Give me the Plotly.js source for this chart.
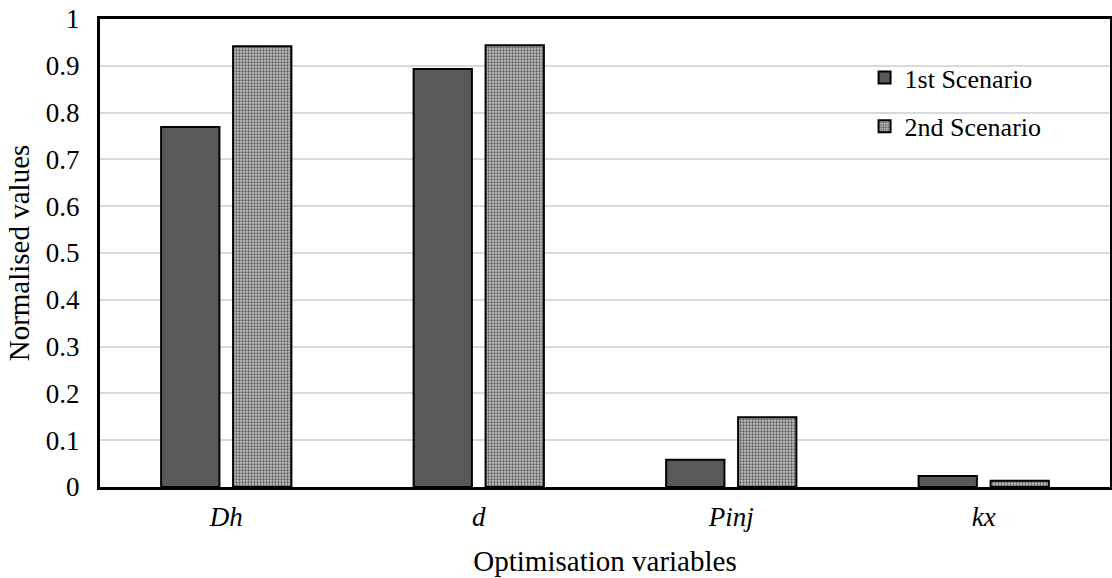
<!DOCTYPE html>
<html><head><meta charset="utf-8">
<script src="https://cdn.plot.ly/plotly-3.0.1.min.js"></script>
<style>html,body{margin:0;padding:0;background:#fff}</style>
</head><body>
<div id="chart" style="width:1112px;height:578px"></div>
<script>
const categories = ["Dh", "d", "Pinj", "kx"];
const tickLabels = ["<i>Dh</i>", "<i>d</i>", "<i>Pinj</i>", "<i>kx</i>"];
const scenario1 = [0.769, 0.893, 0.058, 0.0235];
const scenario2 = [0.942, 0.944, 0.149, 0.0135];
const seriesNames = ["1st Scenario", "2nd Scenario"];

const font = "Liberation Serif, Times New Roman, serif";
const traces = [
  {type:"bar", name:seriesNames[0], x:categories, y:scenario1, legendgroup:"a",
   marker:{color:"#595959", line:{color:"#000", width:2}}},
  {type:"bar", name:seriesNames[1], x:categories, y:scenario2, legendgroup:"b",
   marker:{color:"#a6a6a6", line:{color:"#000", width:2},
     pattern:{shape:".", fgcolor:"#5a5a5a", bgcolor:"#c4c4c4", size:3, solidity:0.45}}}
];
const layout = {
  width:1112, height:578,
  margin:{l:100, r:2, t:19, b:91},
  paper_bgcolor:"#fff", plot_bgcolor:"#fff",
  font:{family:font, size:26, color:"#000"},
  barmode:"group", bargap:0.43, bargroupgap:0.19,
  showlegend:true,
  legend:{x:0.757, y:0.925, xanchor:"left", yanchor:"top", font:{size:26, family:font},
          tracegroupgap:12, traceorder:"grouped", bgcolor:"rgba(0,0,0,0)", itemwidth:30},
  xaxis:{type:"category", tickvals:categories, ticktext:tickLabels, showline:true, linecolor:"#000", linewidth:3,
         mirror:true, ticks:"", ticklabelstandoff:4, tickfont:{size:27, family:font},
         title:{text:"Optimisation variables", font:{size:29, family:font}, standoff:20}},
  yaxis:{range:[0,1], dtick:0.1, showline:true, linecolor:"#000", linewidth:3, mirror:true,
         gridcolor:"#d9d9d9", gridwidth:2, ticks:"", ticklabelstandoff:12, tickfont:{size:27, family:font}, zeroline:false,
         title:{text:"Normalised values", font:{size:29, family:font}, standoff:8}}
};
Plotly.newPlot("chart", traces, layout, {displayModeBar:false, staticPlot:true});
</script>
</body></html>
